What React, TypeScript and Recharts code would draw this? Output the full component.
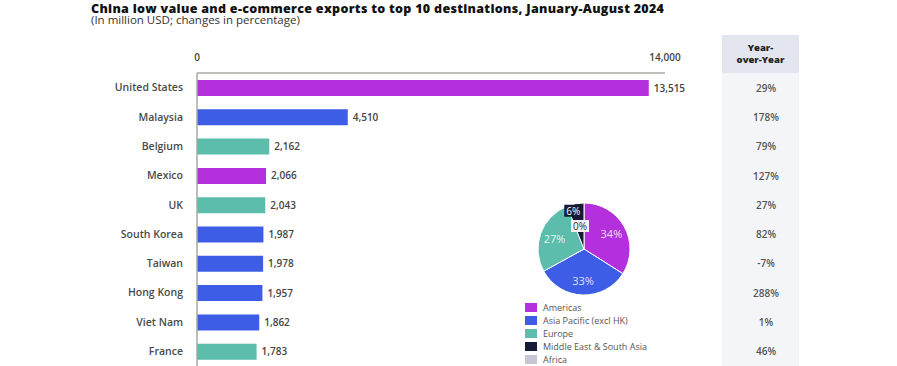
import React from 'react';
import { BarChart, Bar, XAxis, YAxis, Cell, LabelList, PieChart, Pie } from 'recharts';

const countries = ['United States', 'Malaysia', 'Belgium', 'Mexico', 'UK', 'South Korea', 'Taiwan', 'Hong Kong', 'Viet Nam', 'France'];
const exportValues = [13515, 4510, 2162, 2066, 2043, 1987, 1978, 1957, 1862, 1783];
const countryRegion = ['Americas', 'Asia Pacific (excl HK)', 'Europe', 'Americas', 'Europe', 'Asia Pacific (excl HK)', 'Asia Pacific (excl HK)', 'Asia Pacific (excl HK)', 'Asia Pacific (excl HK)', 'Europe'];
const yoyChanges = ['29%', '178%', '79%', '127%', '27%', '82%', '-7%', '288%', '1%', '46%'];
const regionNames = ['Americas', 'Asia Pacific (excl HK)', 'Europe', 'Middle East & South Asia', 'Africa'];
const regionShares = [34, 33, 27, 6, 0];
const xTicks = [0, 14000];

const regionColors: Record<string, string> = {
  'Americas': '#b530dd',
  'Asia Pacific (excl HK)': '#3e5de6',
  'Europe': '#5dbdac',
  'Middle East & South Asia': '#151a36',
  'Africa': '#c5c7d6',
};

const FONT = '"Open Sans", sans-serif';
const AXIS = '#a3aba3';

const barData = countries.map((c, i) => ({ country: c, value: exportValues[i], region: countryRegion[i], yoy: yoyChanges[i] }));
const pieData = regionNames.map((r, i) => ({ name: r, value: regionShares[i] }));
const yoyByCountry: Record<string, string> = Object.fromEntries(countries.map((c, i) => [c, yoyChanges[i]]));

const YoyTick = (props: any) => {
  const { x, y, payload } = props;
  return (
    <text x={x + 93} y={y} textAnchor="middle" dominantBaseline="central" fontSize={10} fontWeight={600} fill="#555" fontFamily={FONT}>
      {yoyByCountry[payload.value]}
    </text>
  );
};

const RAD = Math.PI / 180;
const PieLabel = (props: any) => {
  const { cx, cy, midAngle, outerRadius, index, value } = props;
  const text = `${value}%`;
  if (index === 3) {
    const r = outerRadius * 0.78;
    const x = cx + r * Math.cos(-midAngle * RAD) - 4;
    const y = cy + r * Math.sin(-midAngle * RAD) - 3;
    return (
      <g>
        <rect x={x - 9} y={y - 6} width={18} height={12} fill="#151a36" />
        <text x={x} y={y} textAnchor="middle" dominantBaseline="central" fontSize={10} fill="#fff" fontFamily={FONT}>{text}</text>
      </g>
    );
  }
  if (index === 4) {
    const x = cx - 4;
    const y = cy - 23;
    return (
      <g>
        <rect x={x - 9} y={y - 6} width={18} height={12} fill="#f2f2f5" />
        <text x={x} y={y} textAnchor="middle" dominantBaseline="central" fontSize={10} fill="#333" fontFamily={FONT}>{text}</text>
      </g>
    );
  }
  const r = outerRadius * 0.68;
  const x = cx + r * Math.cos(-midAngle * RAD);
  const y = cy + r * Math.sin(-midAngle * RAD);
  return (
    <text x={x} y={y} textAnchor="middle" dominantBaseline="central" fontSize={11} fill="#fff" fillOpacity={0.85} fontFamily={FONT}>{text}</text>
  );
};

export default function App() {
  return (
    <div style={{ position: 'absolute', left: 0, top: 0, width: 897, height: 366, background: '#fff', overflow: 'hidden', fontFamily: FONT }}>
      <div style={{ position: 'absolute', left: 91, top: 1.5, fontSize: 12.5, fontWeight: 800, letterSpacing: 0.3, color: '#111', whiteSpace: 'nowrap', lineHeight: '14px' }}>
        China low value and e-commerce exports to top 10 destinations, January-August 2024
      </div>
      <div style={{ position: 'absolute', left: 91, top: 14, fontSize: 11.5, color: '#333', whiteSpace: 'nowrap', lineHeight: '11px' }}>
        (In million USD; changes in percentage)
      </div>
      <div style={{ position: 'absolute', left: 722, top: 35, width: 77, height: 38, background: '#e4e6ef', display: 'flex', flexDirection: 'column', alignItems: 'center', justifyContent: 'center', textAlign: 'center', fontSize: 9.5, fontWeight: 800, color: '#222', lineHeight: '12px' }}>
        <div style={{ height: 12.5 }}>Year-</div>
        <div style={{ height: 12.5 }}>over-Year</div>
      </div>
      <div style={{ position: 'absolute', left: 722, top: 73, width: 77, height: 293, background: '#f4f5f9' }} />
      <div style={{ position: 'absolute', left: 0, top: 0 }}>
        <BarChart width={897} height={366} data={barData} layout="vertical" margin={{ top: 43, right: 0, bottom: 0, left: 7 }} barSize={16}>
          <XAxis type="number" orientation="top" height={30} domain={[0, 14000]} ticks={xTicks} tickFormatter={(v: number) => v.toLocaleString('en-US')}
            axisLine={{ stroke: AXIS, strokeWidth: 1.5 }} tickLine={false} tickMargin={6}
            tick={{ fontSize: 10, fill: '#444', fontFamily: FONT, fontWeight: 600 }} />
          <YAxis type="category" dataKey="country" width={190} axisLine={{ stroke: AXIS, strokeWidth: 1.5 }} tickLine={false} tickMargin={8}
            tick={{ fontSize: 10.5, fill: '#4a4a4a', fontFamily: FONT, fontWeight: 600 }} />
          <YAxis yAxisId="yoy" orientation="right" type="category" dataKey="country" width={232} axisLine={false} tickLine={false} tick={<YoyTick />} />
          <Bar dataKey="value" isAnimationActive={false}>
            {barData.map((d, i) => <Cell key={i} fill={regionColors[d.region]} />)}
            <LabelList dataKey="value" position="right" offset={5} formatter={(v: any) => Number(v).toLocaleString('en-US')}
              style={{ fontSize: 10, fill: '#444', fontFamily: FONT, fontWeight: 600 }} />
          </Bar>
        </BarChart>
      </div>
      <div style={{ position: 'absolute', left: 519, top: 184 }}>
        <PieChart width={120} height={120}>
          <Pie data={pieData} dataKey="value" cx={60} cy={60} outerRadius={46} startAngle={90} endAngle={-270}
            stroke="#fff" strokeWidth={1} label={<PieLabel />} labelLine={false} isAnimationActive={false}>
            {pieData.map((d, i) => <Cell key={i} fill={regionColors[d.name]} />)}
          </Pie>
        </PieChart>
      </div>
      <div style={{ position: 'absolute', left: 525, top: 301 }}>
        {regionNames.map((r) => (
          <div key={r} style={{ display: 'flex', alignItems: 'center', height: 13, fontSize: 9, color: '#555' }}>
            <span style={{ display: 'inline-block', width: 12, height: 9, background: regionColors[r], marginRight: 6 }} />
            {r}
          </div>
        ))}
      </div>
    </div>
  );
}
